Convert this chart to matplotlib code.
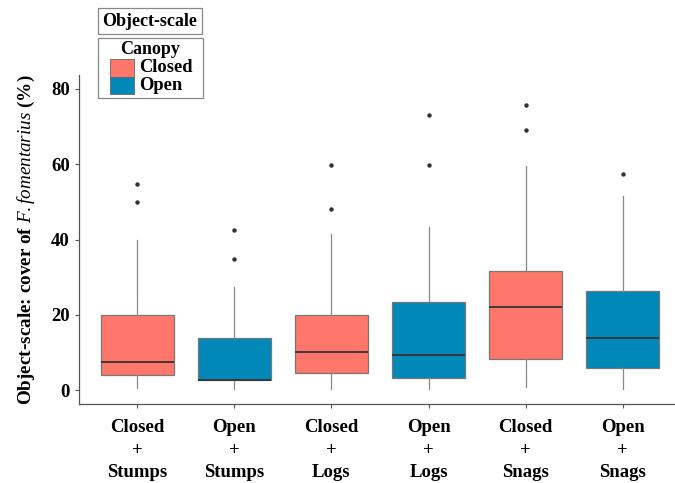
import matplotlib
matplotlib.use("Agg")
import matplotlib.pyplot as plt
from matplotlib.patches import Rectangle

plt.rcParams['font.family'] = ['Liberation Serif', 'DejaVu Serif']
plt.rcParams['mathtext.fontset'] = 'custom'
plt.rcParams['mathtext.it'] = 'Liberation Serif:italic'
plt.rcParams['mathtext.rm'] = 'Liberation Serif'
plt.rcParams['mathtext.bf'] = 'Liberation Serif:bold'

labels = ["Closed\n+\nStumps", "Open\n+\nStumps", "Closed\n+\nLogs",
          "Open\n+\nLogs", "Closed\n+\nSnags", "Open\n+\nSnags"]
canopy = ["Closed", "Open", "Closed", "Open", "Closed", "Open"]
q1 = [4.0, 2.6, 4.6, 3.3, 8.3, 5.9]
med = [7.5, 2.6, 10.0, 9.3, 22.1, 13.8]
q3 = [20.0, 13.8, 20.0, 23.4, 31.7, 26.4]
wlo = [0.6, 0.2, 0.4, 0.3, 0.9, 0.2]
whi = [39.9, 27.5, 41.5, 43.3, 59.6, 51.5]
outliers = [[54.8, 49.9], [42.4, 34.9], [59.8, 48.2], [73.1, 59.9], [75.7, 69.1], [57.3]]

colors = {"Closed": "#FF776B", "Open": "#0089B8"}

W, H = 675, 483
fig = plt.figure(figsize=(6.75, 4.83), dpi=100)
ax = fig.add_axes([79/W, 1 - 404/H, 602/W, (404 - 75)/H])

stats = []
for i in range(len(labels)):
    stats.append(dict(med=med[i], q1=q1[i], q3=q3[i], whislo=wlo[i], whishi=whi[i],
                      fliers=outliers[i], label=labels[i]))

bp = ax.bxp(stats, positions=range(1, 7), widths=0.75, patch_artist=True, showcaps=False,
            boxprops=dict(edgecolor="#777777", linewidth=0.9),
            whiskerprops=dict(color="#888888", linewidth=0.9),
            medianprops=dict(color="#333333", linewidth=1.3),
            flierprops=dict(marker='o', markersize=2.2, markerfacecolor="#333333",
                            markeredgecolor="#333333"))
for patch, c in zip(bp['boxes'], canopy):
    patch.set_facecolor(colors[c])

ax.set_xlim(0.4, 6.6)
ax.set_ylim(-3.7, 83.7)
ax.set_yticks([0, 20, 40, 60, 80])
ax.set_xticks(range(1, 7))
ax.set_xticklabels(labels, fontsize=13.5, fontweight='bold', linespacing=1.42)
ax.tick_params(axis='y', labelsize=13.5, length=3, color="#555555")
for t in ax.get_yticklabels():
    t.set_fontweight('bold')
ax.tick_params(axis='x', length=3, color="#555555", pad=8)
for s in ['top', 'right']:
    ax.spines[s].set_visible(False)
for s in ['left', 'bottom']:
    ax.spines[s].set_color("#555555")
    ax.spines[s].set_linewidth(0.9)

ax.set_ylabel(r"Object-scale: cover of $\mathit{F. fomentarius}$ (%)", fontsize=13.8,
              fontweight='bold', labelpad=10)

# Title box
fig.text(150/W, 1 - 21/H, "Object-scale", fontsize=13, fontweight='bold',
         ha='center', va='center',
         bbox=dict(boxstyle='square,pad=0.25', facecolor='white', edgecolor='#888888', linewidth=0.9))

# Legend box (drawn manually)
def fx(px):
    return px / W

def fy(py):
    return 1 - py / H

fig.add_artist(Rectangle((fx(98), fy(98)), fx(203) - fx(98), fy(38) - fy(98),
                         transform=fig.transFigure, facecolor='white', edgecolor='#888888',
                         linewidth=0.9))
fig.text(fx(150), fy(49), "Canopy", fontsize=13, fontweight='bold', ha='center', va='center')
for (top, bot), name in zip([(59, 77), (77, 94)], ["Closed", "Open"]):
    fig.add_artist(Rectangle((fx(110), fy(bot)), fx(134) - fx(110), fy(top) - fy(bot),
                             transform=fig.transFigure, facecolor=colors[name],
                             edgecolor='#666666', linewidth=0.6))
    fig.text(fx(139), fy((top + bot) / 2), name, fontsize=13.3, fontweight='bold',
             ha='left', va='center')

fig.savefig("out.png", dpi=100)
